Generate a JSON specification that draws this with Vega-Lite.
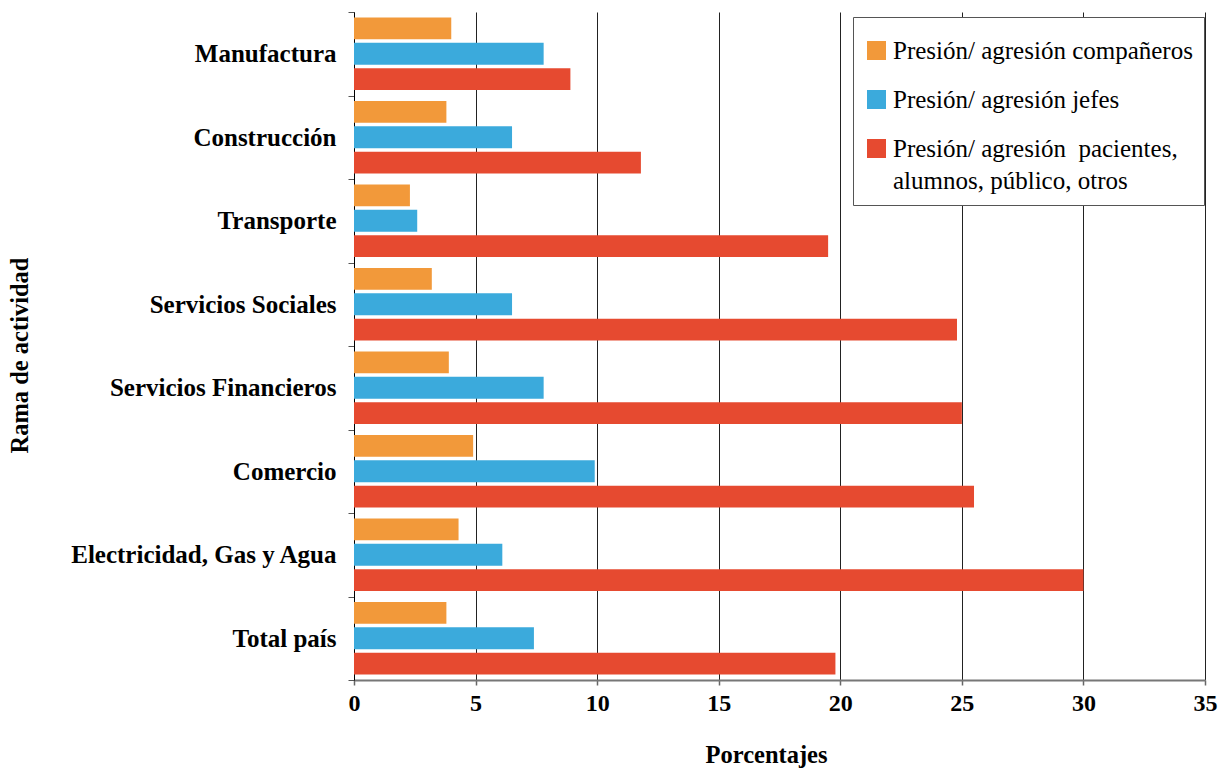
{
  "$schema": "https://vega.github.io/schema/vega-lite/v6.json",
  "width": 851,
  "height": 668,
  "autosize": "none",
  "padding": {"left": 354, "top": 12, "right": 25, "bottom": 93},
  "background": "white",
  "config": {
    "font": "Liberation Serif",
    "view": {"stroke": null}
  },
  "data": {
    "values": [
      {"rama": "Manufactura", "tipo": "Presión/ agresión compañeros", "valor": 4.0},
      {"rama": "Manufactura", "tipo": "Presión/ agresión jefes", "valor": 7.8},
      {"rama": "Manufactura", "tipo": "Presión/ agresión  pacientes, alumnos, público, otros", "valor": 8.9},
      {"rama": "Construcción", "tipo": "Presión/ agresión compañeros", "valor": 3.8},
      {"rama": "Construcción", "tipo": "Presión/ agresión jefes", "valor": 6.5},
      {"rama": "Construcción", "tipo": "Presión/ agresión  pacientes, alumnos, público, otros", "valor": 11.8},
      {"rama": "Transporte", "tipo": "Presión/ agresión compañeros", "valor": 2.3},
      {"rama": "Transporte", "tipo": "Presión/ agresión jefes", "valor": 2.6},
      {"rama": "Transporte", "tipo": "Presión/ agresión  pacientes, alumnos, público, otros", "valor": 19.5},
      {"rama": "Servicios Sociales", "tipo": "Presión/ agresión compañeros", "valor": 3.2},
      {"rama": "Servicios Sociales", "tipo": "Presión/ agresión jefes", "valor": 6.5},
      {"rama": "Servicios Sociales", "tipo": "Presión/ agresión  pacientes, alumnos, público, otros", "valor": 24.8},
      {"rama": "Servicios Financieros", "tipo": "Presión/ agresión compañeros", "valor": 3.9},
      {"rama": "Servicios Financieros", "tipo": "Presión/ agresión jefes", "valor": 7.8},
      {"rama": "Servicios Financieros", "tipo": "Presión/ agresión  pacientes, alumnos, público, otros", "valor": 25.0},
      {"rama": "Comercio", "tipo": "Presión/ agresión compañeros", "valor": 4.9},
      {"rama": "Comercio", "tipo": "Presión/ agresión jefes", "valor": 9.9},
      {"rama": "Comercio", "tipo": "Presión/ agresión  pacientes, alumnos, público, otros", "valor": 25.5},
      {"rama": "Electricidad, Gas y Agua", "tipo": "Presión/ agresión compañeros", "valor": 4.3},
      {"rama": "Electricidad, Gas y Agua", "tipo": "Presión/ agresión jefes", "valor": 6.1},
      {"rama": "Electricidad, Gas y Agua", "tipo": "Presión/ agresión  pacientes, alumnos, público, otros", "valor": 30.0},
      {"rama": "Total país", "tipo": "Presión/ agresión compañeros", "valor": 3.8},
      {"rama": "Total país", "tipo": "Presión/ agresión jefes", "valor": 7.4},
      {"rama": "Total país", "tipo": "Presión/ agresión  pacientes, alumnos, público, otros", "valor": 19.8}
    ]
  },
  "mark": {"type": "bar"},
  "encoding": {
    "y": {
      "field": "rama",
      "type": "nominal",
      "sort": ["Manufactura", "Construcción", "Transporte", "Servicios Sociales", "Servicios Financieros", "Comercio", "Electricidad, Gas y Agua", "Total país"],
      "scale": {"paddingInner": 0, "paddingOuter": 0},
      "axis": {
        "title": "Rama de actividad",
        "titleFontSize": 24.5,
        "titleFontWeight": "bold",
        "titleColor": "black",
        "titleX": -334,
        "titleY": 343,
        "titleAngle": -90,
        "titleAlign": "center",
        "titleBaseline": "middle",
        "labelExpr": "datum.label == 'Servicios Sociales' ? datum.label + '\u00a0\u00a0' : (datum.label == 'Construcción' || datum.label == 'Comercio' || datum.label == 'Total país') ? datum.label + '\u00a0' : datum.label",
        "labelFontSize": 25,
        "labelFontWeight": "bold",
        "labelColor": "black",
        "labelPadding": 12,
        "labelLimit": 0,
        "tickBand": "extent",
        "tickSize": 6,
        "tickColor": "#555",
        "domainColor": "black",
        "domainWidth": 1,
        "grid": false
      }
    },
    "yOffset": {
      "field": "tipo",
      "sort": ["Presión/ agresión compañeros", "Presión/ agresión jefes", "Presión/ agresión  pacientes, alumnos, público, otros"],
      "scale": {"paddingInner": 0.138, "paddingOuter": 0.219}
    },
    "x": {
      "field": "valor",
      "type": "quantitative",
      "scale": {"domain": [0, 35], "nice": false},
      "axis": {
        "title": "Porcentajes",
        "titleFontSize": 24.5,
        "titleFontWeight": "bold",
        "titleColor": "black",
        "titlePadding": 28,
        "titleX": 412,
        "values": [0, 5, 10, 15, 20, 25, 30, 35],
        "labelFlush": false,
        "labelFontSize": 24,
        "labelFontWeight": "bold",
        "labelColor": "black",
        "labelPadding": 6,
        "tickSize": 5,
        "tickColor": "#666",
        "tickWidth": 1.5,
        "domainColor": "#777",
        "domainWidth": 2,
        "grid": true,
        "gridColor": "#222",
        "gridWidth": 1
      }
    },
    "color": {
      "field": "tipo",
      "type": "nominal",
      "sort": ["Presión/ agresión compañeros", "Presión/ agresión jefes", "Presión/ agresión  pacientes, alumnos, público, otros"],
      "scale": {
        "domain": ["Presión/ agresión compañeros", "Presión/ agresión jefes", "Presión/ agresión  pacientes, alumnos, público, otros"],
        "range": ["#F2993A", "#3BAADC", "#E64A30"]
      },
      "legend": {
        "orient": "none",
        "legendX": 499,
        "legendY": 5,
        "direction": "vertical",
        "title": " ",
        "titleFontSize": 1,
        "titlePadding": 9,
        "padding": 11,
        "strokeColor": "#555",
        "fillColor": "white",
        "symbolType": "square",
        "symbolSize": 361,
        "symbolStrokeWidth": 0,
        "symbolOpacity": 1,
        "labelFontSize": 25,
        "labelColor": "black",
        "labelLimit": 0,
        "labelOffset": 4,
        "rowPadding": 23,
        "labelExpr": "datum.index == 2 ? ['Presión/ agresión\u00a0 pacientes,', 'alumnos, público, otros'] : datum.label",
        "encode": {
          "labels": {
            "update": {
              "lineHeight": {"value": 32}
            }
          }
        }
      }
    }
  }
}
